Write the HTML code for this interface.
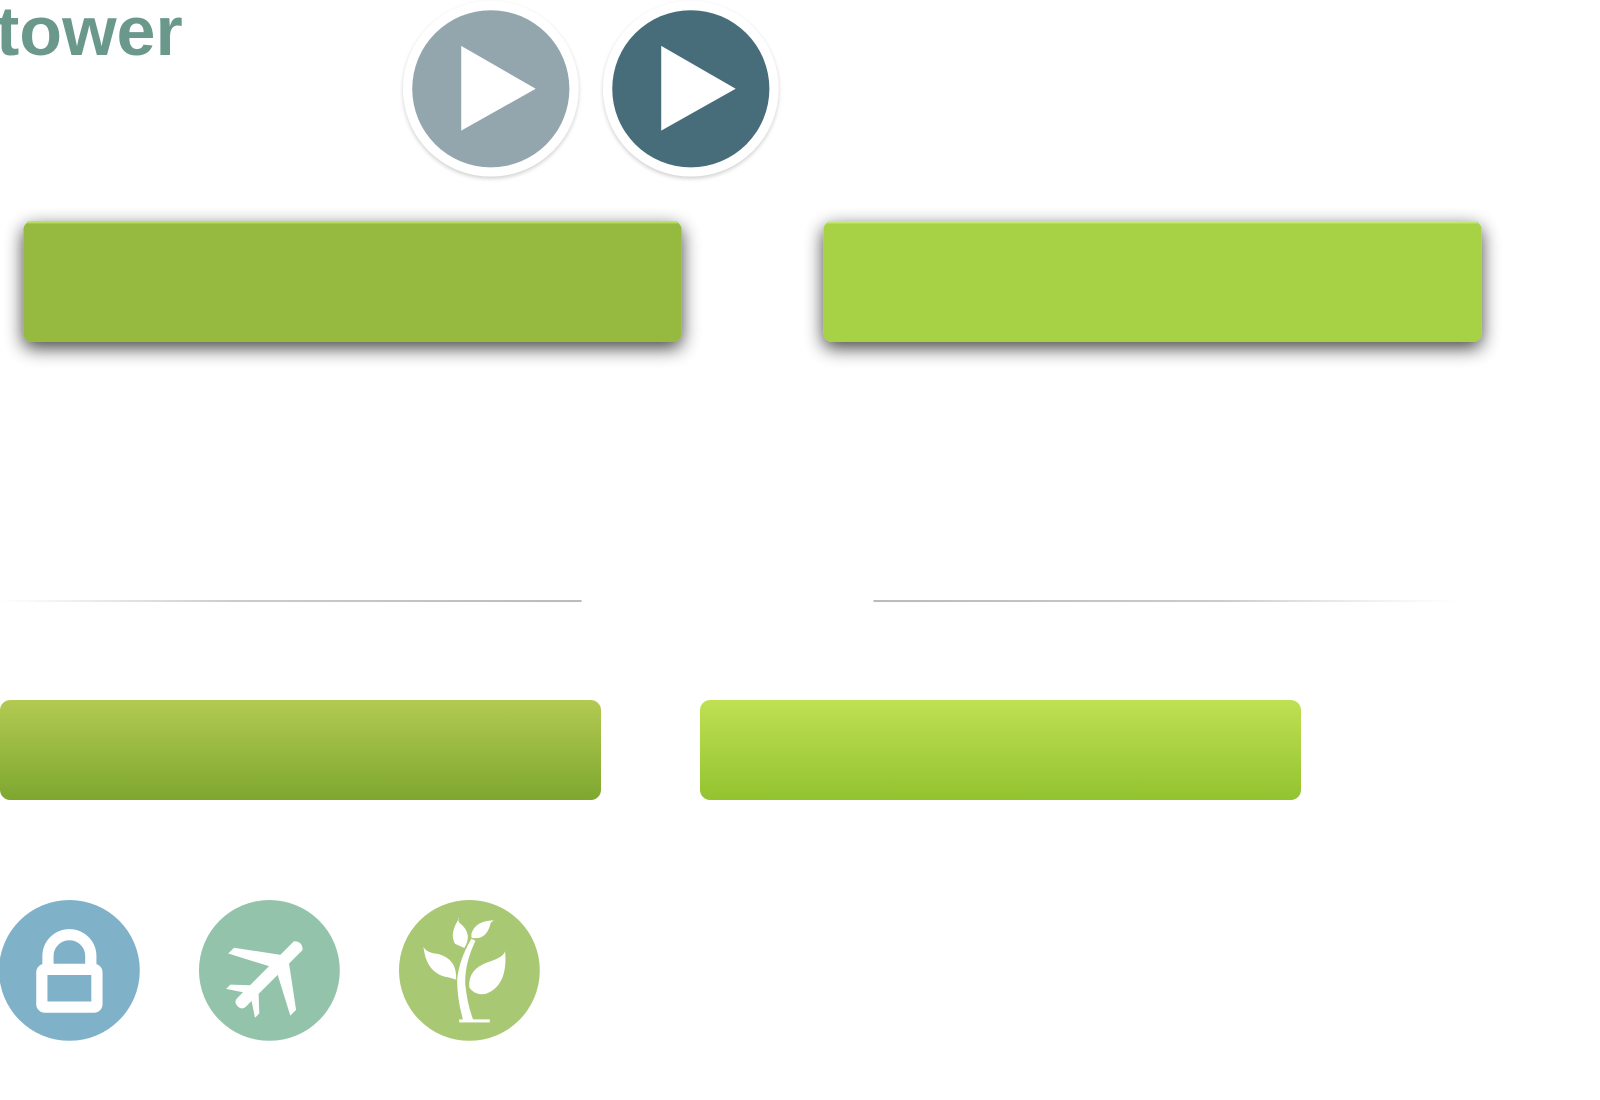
<!DOCTYPE html>
<html><head><meta charset="utf-8"><style>
body{margin:0;width:1600px;height:1100px;background:#fff;position:relative;overflow:hidden;font-family:"Liberation Sans",sans-serif}
.a{position:absolute}
</style></head><body>
<div class="a" style="left:-4px;top:-4px;font-size:70px;font-weight:bold;color:#6a998c;line-height:70px">tower</div>
<svg class="a" style="left:0;top:0" width="1600" height="1100">
<defs>
<filter id="sh" x="-20%" y="-20%" width="140%" height="140%"><feGaussianBlur in="SourceAlpha" stdDeviation="2"/><feOffset dy="2"/><feComponentTransfer><feFuncA type="linear" slope="0.2"/></feComponentTransfer><feMerge><feMergeNode/><feMergeNode in="SourceGraphic"/></feMerge></filter>
<filter id="bs" x="-10%" y="-40%" width="120%" height="190%"><feGaussianBlur in="SourceAlpha" stdDeviation="9"/><feOffset dy="6"/><feComponentTransfer><feFuncA type="linear" slope="0.75"/></feComponentTransfer><feMerge><feMergeNode/><feMergeNode in="SourceGraphic"/></feMerge></filter>
<linearGradient id="g1" x1="0" y1="0" x2="0" y2="1"><stop offset="0" stop-color="#b3ca52"/><stop offset="1" stop-color="#7ea72f"/></linearGradient>
<linearGradient id="g2" x1="0" y1="0" x2="0" y2="1"><stop offset="0" stop-color="#bfe052"/><stop offset="1" stop-color="#93c330"/></linearGradient>
<linearGradient id="l1" x1="0" x2="1"><stop offset="0" stop-color="#ccc" stop-opacity="0"/><stop offset="0.4" stop-color="#ccc"/><stop offset="1" stop-color="#bbb"/></linearGradient>
<linearGradient id="l2" x1="0" x2="1"><stop offset="0" stop-color="#bbb"/><stop offset="0.6" stop-color="#ccc"/><stop offset="1" stop-color="#ddd" stop-opacity="0"/></linearGradient>
</defs>
<g transform="scale(1.0204)">
<g><circle cx="481" cy="87" r="86" fill="#fff" filter="url(#sh)"/><circle cx="481" cy="87" r="77" fill="#93a6ae"/><polygon points="452,45 452,128 525,87" fill="#fff"/></g>
<g><circle cx="677" cy="87" r="86" fill="#fff" filter="url(#sh)"/><circle cx="677" cy="87" r="77" fill="#476c7a"/><polygon points="648,45 648,128 721,87" fill="#fff"/></g>
<g><rect x="23" y="217" width="645" height="118" rx="8" fill="#96b940" filter="url(#bs)"/><rect x="27" y="217" width="637" height="2" fill="#b5dc5a"/></g>
<g><rect x="807" y="217" width="645" height="118" rx="8" fill="#a8d245" filter="url(#bs)"/><rect x="811" y="217" width="637" height="2" fill="#c3e873"/></g>
<rect x="0" y="588" width="570" height="2" fill="url(#l1)"/>
<rect x="856" y="588" width="574" height="2" fill="url(#l2)"/>
<rect x="0" y="686" width="589" height="98" rx="10" fill="url(#g1)"/>
<rect x="686" y="686" width="589" height="98" rx="10" fill="url(#g2)"/>
<g><circle cx="68" cy="951" r="69" fill="#7fb1c9"/>
<path d="M47,951 V937 A21,21 0 0 1 89,937 V951" fill="none" stroke="#fff" stroke-width="11"/>
<rect x="41" y="950" width="54" height="37" fill="#7fb1c9" stroke="#fff" stroke-width="11" rx="3"/></g>
<g><circle cx="264" cy="951" r="69" fill="#93c3aa"/>
<g transform="translate(264,955) rotate(-45)" fill="#fff"><path d="M-44,0 Q-44,-6 -38,-6 H40 Q46,0 40,6 H-38 Q-44,6 -44,0Z"/><polygon points="6,-5 -14,-43 -6,-43 22,-5"/><polygon points="6,5 -14,43 -6,43 22,5"/><polygon points="-30,-5 -40,-20 -34,-20 -20,-5"/><polygon points="-30,5 -40,20 -34,20 -20,5"/></g></g>
<g><circle cx="460" cy="951" r="69" fill="#a8c873"/>
<g fill="#fff"><path d="M454,1000 Q448,980 448,960 Q450,940 462,920 L466,922 Q455,945 456,965 Q458,985 464,1000Z"/><rect x="450" y="999" width="30" height="3"/>
<path d="M447,960 Q448,940 430,935 Q418,934 415,928 Q418,955 440,958Z"/><path d="M460,968 Q458,950 478,943 Q494,938 495,932 Q498,966 476,974 Q466,976 460,968Z"/><path d="M455,929 Q464,915 450,904 Q448,899 450,900 Q440,915 446,925Z"/><path d="M462,919 Q477,922 481,904 Q483,903 484,902 Q466,902 462,915Z"/></g></g>
</g>
</svg>
</body></html>
